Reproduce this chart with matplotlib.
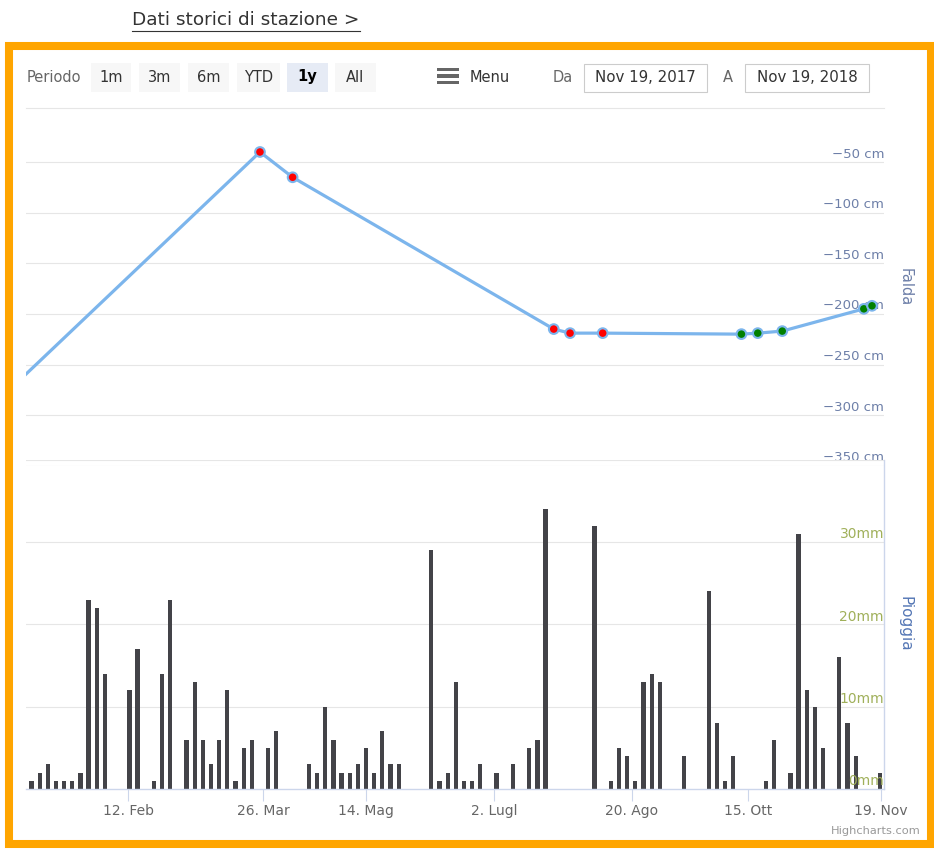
import matplotlib
matplotlib.use('Agg')
import matplotlib.pyplot as plt
import matplotlib.transforms as mtransforms
from matplotlib.patches import Rectangle
from matplotlib.lines import Line2D

W, H = 934, 850

# pioggia (mm): one value per ordinal slot of the Highstock axis
pioggia = [1, 2, 3, 1, 1, 1, 2, 23, 22, 14,
           0, 0, 12, 17, 0, 1, 14, 23, 0, 6,
           13, 6, 3, 6, 12, 1, 5, 6, 0, 5,
           7, 0, 0, 0, 3, 2, 10, 6, 2, 2,
           3, 5, 2, 7, 3, 3, 0, 0, 0, 29,
           1, 2, 13, 1, 1, 3, 0, 2, 0, 3,
           0, 5, 6, 34, 0, 0, 0, 0, 0, 32,
           0, 1, 5, 4, 1, 13, 14, 13, 0, 0,
           4, 0, 0, 24, 8, 1, 4, 0, 0, 0,
           1, 6, 0, 2, 31, 12, 10, 5, 0, 16,
           8, 4, 0, 0, 2]

# falda (cm): slot index on the ordinal axis, level, marker colour
falda_slot = [-4, 28, 32, 64, 66, 70, 87, 89, 92, 102, 103]
falda_cm = [-285, -40, -65, -215, -219, -219, -220, -219, -217, -195, -192]
falda_col = ['#ff0000'] * 6 + ['#008000'] * 5

xtick_slot = [11.83, 28.37, 40.99, 56.68, 73.59, 87.81, 104.1]
xtick_lab = ['12. Feb', '26. Mar', '14. Mag', '2. Lugl', '20. Ago', '15. Ott', '19. Nov']

falda_ticks = [-50, -100, -150, -200, -250, -300, -350]
pioggia_ticks = [0, 10, 20, 30]

periodi = ['1m', '3m', '6m', 'YTD', '1y', 'All']


def fx(x):
    return x / W


def fy(y):
    return 1 - y / H


def rect_px(x0, y0, x1, y1):
    return [fx(x0), fy(y1), (x1 - x0) / W, (y1 - y0) / H]


fig = plt.figure(figsize=(W / 100, H / 100), dpi=100)
fig.patch.set_facecolor('white')

# cornice arancione
fig.add_artist(Rectangle((fx(9), fy(844)), 922 / W, (844 - 46) / H,
                         transform=fig.transFigure, fill=False,
                         edgecolor='#ffa500', linewidth=5.8))

# titolo sopra
fig.text(fx(132), fy(20), 'Dati storici di stazione >', fontsize=13.3, color='#333333',
         va='center', ha='left')
fig.add_artist(Line2D([fx(132), fx(360)], [fy(31), fy(31)], color='#333333', lw=0.8,
                      transform=fig.transFigure))

# range selector
fig.text(fx(27), fy(78), 'Periodo', fontsize=10.5, color='#666666', va='center')
btn_x = [91, 139, 188, 237, 287, 335]
btn_w = [40, 41, 41, 43, 41, 41]
for p, bx, bw in zip(periodi, btn_x, btn_w):
    sel = p == '1y'
    fig.add_artist(Rectangle((fx(bx), fy(92)), bw / W, 29 / H, transform=fig.transFigure,
                             facecolor='#e6ebf5' if sel else '#f7f7f7', edgecolor='none'))
    fig.text(fx(bx + bw / 2), fy(77), p, fontsize=10.5, color='#000000' if sel else '#333333',
             fontweight='bold' if sel else 'normal', ha='center', va='center')

for yy in [69.5, 76, 82.5]:
    fig.add_artist(Rectangle((fx(437), fy(yy + 1.5)), 22 / W, 3 / H, transform=fig.transFigure,
                             facecolor='#666666', edgecolor='none'))
fig.text(fx(470), fy(77), 'Menu', fontsize=10.5, color='#333333', va='center')

fig.text(fx(553), fy(77), 'Da', fontsize=10.5, color='#666666', va='center')
fig.text(fx(723), fy(77), 'A', fontsize=10.5, color='#666666', va='center')
for x0, x1, lab in [(584, 707, 'Nov 19, 2017'), (745, 869, 'Nov 19, 2018')]:
    fig.add_artist(Rectangle((fx(x0), fy(92)), (x1 - x0) / W, 28 / H, transform=fig.transFigure,
                             facecolor='white', edgecolor='#cccccc', lw=0.8))
    fig.text(fx((x0 + x1) / 2), fy(77), lab, fontsize=10.8, color='#333333',
             ha='center', va='center')

fig.add_artist(Line2D([fx(26), fx(884)], [fy(108), fy(108)], color='#e6e6e6', lw=0.8,
                      transform=fig.transFigure))

x_min, x_max = -0.67, 104.47

# pannello falda
ax1 = fig.add_axes(rect_px(26, 111.5, 884, 465.7))
ax1.set_xlim(x_min, x_max)
ax1.set_ylim(-350, 0)
ax1.axis('off')
for t in falda_ticks:
    ax1.axhline(t, color='#e6e6e6', lw=0.8, zorder=0)
    tr = mtransforms.offset_copy(ax1.get_yaxis_transform(), fig=fig, x=0, y=5.8, units='points')
    ax1.text(1.0, t, '\u2212%d cm' % (-t), transform=tr, ha='right', va='center',
             fontsize=9.5, color='#6d7fa8')
ax1.plot(falda_slot, falda_cm, color='#7cb5ec', lw=2.3, zorder=2, clip_on=True)
ax1.scatter(falda_slot, falda_cm, s=48, c=falda_col, edgecolors='#7cb5ec', linewidths=1.5,
            zorder=3)
fig.text(fx(905), fy(287), 'Falda', rotation=270, fontsize=10.5, color='#6d7fa8',
         ha='center', va='center')

# pannello pioggia
ax2 = fig.add_axes(rect_px(26, 459.8, 884, 789))
ax2.set_facecolor('none')
ax2.set_xlim(x_min, x_max)
ax2.set_ylim(0, 40)
for t in [10, 20, 30, 40]:
    ax2.axhline(t, color='#e6e6e6', lw=0.8, zorder=0)
ax2.bar(range(len(pioggia)), pioggia, width=0.52, color='#434348', edgecolor='none', zorder=2)
for s in ['top', 'left']:
    ax2.spines[s].set_visible(False)
for s in ['bottom', 'right']:
    ax2.spines[s].set_color('#ccd6eb')
    ax2.spines[s].set_linewidth(1.0)
ax2.set_yticks([])
ax2.set_xticks(xtick_slot)
ax2.set_xticklabels(xtick_lab)
ax2.tick_params(axis='x', length=8.5, width=0.8, color='#ccd6eb', labelcolor='#666666',
                labelsize=10, pad=2)
for t in pioggia_ticks:
    tr = mtransforms.offset_copy(ax2.get_yaxis_transform(), fig=fig, x=0, y=5.5, units='points')
    ax2.text(1.0, t, '%dmm' % t, transform=tr, ha='right', va='center', fontsize=10,
             color='#a0b05a', zorder=4)
fig.text(fx(905), fy(624), 'Pioggia', rotation=270, fontsize=11, color='#5577b5',
         ha='center', va='center')

fig.text(fx(921), fy(831), 'Highcharts.com', fontsize=8.2, color='#999999',
         ha='right', va='center')

fig.savefig('out.png', dpi=100)
